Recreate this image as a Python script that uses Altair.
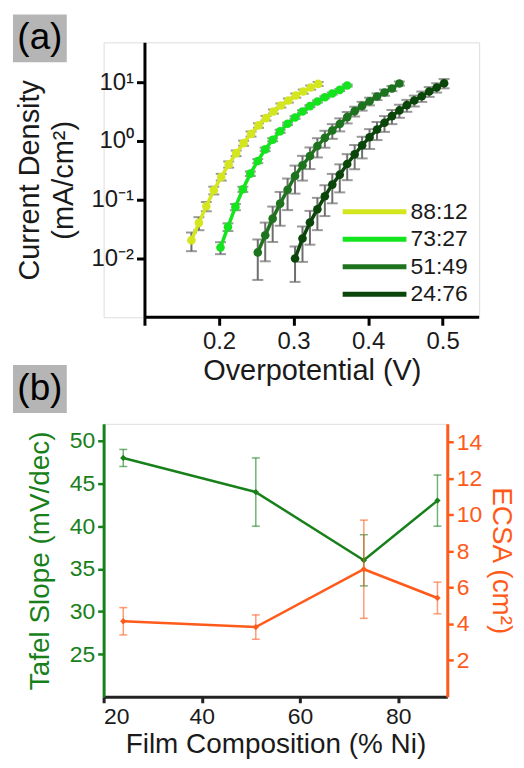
import altair as alt
import pandas as pd

FONT = "Liberation Sans"

# ---------------- panel (a) data ----------------
series_names = ["88:12", "73:27", "51:49", "24:76"]
series_colors = ["#d4e61e", "#14e41e", "#1e741e", "#0a460a"]

v_8812 = [0.163, 0.173, 0.183, 0.193, 0.203, 0.213, 0.223, 0.233, 0.243, 0.253,
          0.263, 0.273, 0.283, 0.293, 0.303, 0.313, 0.323, 0.333]
j_8812 = [0.0205, 0.0404, 0.0776, 0.145, 0.244, 0.40, 0.62, 0.92, 1.32, 1.84,
          2.45, 3.18, 4.02, 4.89, 5.94, 6.95, 8.13, 9.35]
r_8812 = [0.35, 0.25, 0.18, 0.15, 0.13, 0.12, 0.11, 0.10, 0.10, 0.09,
          0.09, 0.08, 0.08, 0.08, 0.08, 0.08, 0.08, 0.08]

v_7327 = [0.202, 0.212, 0.222, 0.232, 0.242, 0.252, 0.262, 0.272, 0.282, 0.292,
          0.302, 0.312, 0.322, 0.332, 0.342, 0.352, 0.362, 0.372]
j_7327 = [0.0154, 0.0345, 0.0755, 0.151, 0.278, 0.456, 0.72, 1.05, 1.46, 1.96,
          2.51, 3.18, 3.92, 4.70, 5.56, 6.42, 7.40, 8.78]
r_7327 = [0.23, 0.15, 0.12, 0.10, 0.09, 0.08, 0.07, 0.06, 0.06, 0.05,
          0.05, 0.05, 0.04, 0.04, 0.04, 0.04, 0.04, 0.04]

v_5149 = [0.252, 0.262, 0.272, 0.282, 0.292, 0.302, 0.312, 0.322, 0.332, 0.342,
          0.352, 0.362, 0.372, 0.382, 0.392, 0.402, 0.412, 0.422, 0.432, 0.442]
j_5149 = [0.0127, 0.0249, 0.0478, 0.0859, 0.148, 0.254, 0.385, 0.554, 0.819, 1.13,
          1.51, 1.94, 2.55, 3.22, 3.96, 4.75, 5.71, 6.68, 7.82, 9.5]
r_5149 = [0.66, 0.64, 0.60, 0.58, 0.55, 0.50, 0.45, 0.40, 0.36, 0.32,
          0.28, 0.25, 0.22, 0.19, 0.17, 0.15, 0.13, 0.12, 0.10, 0.08]

v_2476 = [0.302, 0.312, 0.322, 0.332, 0.342, 0.352, 0.362, 0.372, 0.382, 0.392,
          0.402, 0.412, 0.422, 0.432, 0.442, 0.452, 0.462, 0.472, 0.482, 0.492, 0.502]
j_2476 = [0.0100, 0.0219, 0.0409, 0.069, 0.1146, 0.181, 0.267, 0.406, 0.592, 0.842,
          1.16, 1.57, 2.04, 2.65, 3.31, 4.07, 4.89, 5.78, 6.95, 8.13, 9.6]
r_2476 = [0.60, 0.60, 0.58, 0.56, 0.54, 0.52, 0.50, 0.47, 0.44, 0.40,
          0.37, 0.34, 0.30, 0.27, 0.25, 0.23, 0.21, 0.20, 0.19, 0.18, 0.18]

# ---------------- panel (b) data ----------------
composition = [24, 51, 73, 88]
tafel = [48, 44, 36, 43]
tafel_err = [1, 4, 3, 3]
ecsa = [4.15, 3.83, 7.01, 5.43]
ecsa_err = [0.75, 0.67, 2.7, 0.87]

GREEN = "#17801a"
ORANGE = "#ff5a1a"
TXT = "#1a1a1a"

rows = []
for name, vs, js, rs in [("88:12", v_8812, j_8812, r_8812), ("73:27", v_7327, j_7327, r_7327),
                         ("51:49", v_5149, j_5149, r_5149), ("24:76", v_2476, j_2476, r_2476)]:
    for v, j, r in zip(vs, js, rs):
        rows.append({"series": name, "V": v, "J": j, "lo": j * (1 - r), "hi": j * (1 + r)})
df_a = pd.DataFrame(rows)
legend_df = pd.DataFrame({"series": series_names})
label_df = pd.DataFrame({"t": ["x"]})

# ---------------- panel (a) ----------------
# plot area starts at the same x as panel (b); the y axis is pushed inward by AXIS_SHIFT px
AXIS_SHIFT = 41
WA, HA = 377, 276
XMIN_A, XMAX_A = 0.0452, 0.549
xs_a = alt.Scale(domain=[XMIN_A, XMAX_A], nice=False, zero=False)
ys_a = alt.Scale(type="log", domain=[0.001, 47.7], nice=False)

x_axis_a = alt.Axis(values=[0.1, 0.2, 0.3, 0.4, 0.5],
                    labelExpr="datum.value < 0.15 ? '' : format(datum.value, '.1f')",
                    title="Overpotential (V)", grid=False, domain=False,
                    tickWidth=3, tickColor="black", tickSize=8,
                    labelFont=FONT, labelFontSize=24, labelColor=TXT, labelPadding=4,
                    titleFont=FONT, titleFontSize=29, titleFontWeight="normal", titleColor=TXT,
                    titlePadding=3, titleX=(WA + AXIS_SHIFT) / 2)
y_axis_a = alt.Axis(values=[0.01, 0.1, 1, 10], offset=-AXIS_SHIFT,
                    labelExpr="datum.value > 5 ? '10\u00b9' : datum.value > 0.5 ? '10\u2070' : datum.value > 0.05 ? '10\u207b\u00b9' : '10\u207b\u00b2'",
                    title=["Current Density", "(mA/cm\u00b2)"], grid=False,
                    domainWidth=3, domainColor="black", tickWidth=3, tickColor="black", tickSize=8,
                    labelFont=FONT, labelFontSize=24, labelColor=TXT, labelPadding=3,
                    titleFont=FONT, titleFontSize=29, titleFontWeight="normal", titleColor=TXT,
                    titleLineHeight=34, titlePadding=13)

X_a = alt.X("V:Q", scale=xs_a, axis=x_axis_a)
base_a = alt.Chart(df_a)
color_scale = alt.Scale(domain=series_names, range=series_colors)

# x axis line (from the shifted y axis to the right end of the plot)
xline_a = alt.Chart(label_df).mark_rule(color="black", strokeWidth=3).encode(
    x=alt.value(AXIS_SHIFT), x2=alt.value(WA), y=alt.value(HA))

err_a = base_a.mark_rule(color="#6e6e6e", strokeWidth=2).encode(
    x=X_a, y=alt.Y("lo:Q", scale=ys_a, axis=y_axis_a), y2="hi:Q")
cap_lo = base_a.mark_tick(orient="horizontal", color="#6e6e6e", size=11, thickness=2).encode(
    x=X_a, y=alt.Y("lo:Q", scale=ys_a, axis=y_axis_a))
cap_hi = base_a.mark_tick(orient="horizontal", color="#6e6e6e", size=11, thickness=2).encode(
    x=X_a, y=alt.Y("hi:Q", scale=ys_a, axis=y_axis_a))
line_a = base_a.mark_line(strokeWidth=3.5).encode(
    x=X_a, y=alt.Y("J:Q", scale=ys_a, axis=y_axis_a),
    color=alt.Color("series:N", scale=color_scale, legend=None))
pts_a = base_a.mark_circle(size=75, opacity=1).encode(
    x=X_a, y=alt.Y("J:Q", scale=ys_a, axis=y_axis_a),
    color=alt.Color("series:N", scale=color_scale, legend=None))

data_a = alt.layer(err_a, cap_lo, cap_hi, line_a, pts_a)

# legend drawn as its own layer (independent y)
leg_y = alt.Y("series:N", scale=alt.Scale(type="point", domain=series_names, range=[170, 253], padding=0),
              axis=None)
leg_line = alt.Chart(legend_df).mark_rule(strokeWidth=5).encode(
    x=alt.value(240), x2=alt.value(304), y=leg_y,
    color=alt.Color("series:N", scale=color_scale, legend=None))
leg_text = alt.Chart(legend_df).mark_text(font=FONT, fontSize=23, color=TXT, align="left",
                                          baseline="middle").encode(
    x=alt.value(308), y=leg_y, text="series:N")
legend_a = alt.layer(leg_line, leg_text)

box_a = alt.Chart(label_df).mark_rect(color="#b5b5b5").encode(
    x=alt.value(-91), x2=alt.value(-37), y=alt.value(-28), y2=alt.value(20))
txt_a = alt.Chart(label_df).mark_text(text="(a)", font=FONT, fontSize=37, color="black",
                                      baseline="alphabetic", align="center").encode(
    x=alt.value(-64), y=alt.value(7))

panel_a = alt.layer(box_a, txt_a, xline_a, data_a, legend_a).resolve_scale(y="independent").properties(
    width=WA, height=HA)

# ---------------- panel (b) ----------------
WB, HB = 345, 274
df_b = pd.DataFrame({"comp": composition, "tafel": tafel,
                     "t_lo": [t - e for t, e in zip(tafel, tafel_err)],
                     "t_hi": [t + e for t, e in zip(tafel, tafel_err)],
                     "ecsa": ecsa,
                     "e_lo": [t - e for t, e in zip(ecsa, ecsa_err)],
                     "e_hi": [t + e for t, e in zip(ecsa, ecsa_err)]})
xs_b = alt.Scale(domain=[20, 90], nice=False, zero=False)
x_axis_b = alt.Axis(values=[20, 40, 60, 80], title="Film Composition (% Ni)", grid=False,
                    domainWidth=3, domainColor="#222222", tickWidth=3, tickColor="#222222", tickSize=6,
                    labelFont=FONT, labelFontSize=23, labelColor=TXT, labelPadding=3,
                    titleFont=FONT, titleFontSize=28, titleFontWeight="normal", titleColor=TXT,
                    titlePadding=2)
ys_l = alt.Scale(domain=[20, 52], nice=False, zero=False)
ys_r = alt.Scale(domain=[0, 15], nice=False, zero=False)
y_axis_l = alt.Axis(values=[25, 30, 35, 40, 45, 50], title="Tafel Slope (mV/dec)", grid=False,
                    domainWidth=3, domainColor=GREEN, tickWidth=2.5, tickColor=GREEN, tickSize=6,
                    labelFont=FONT, labelFontSize=23, labelColor=GREEN, labelPadding=3,
                    titleFont=FONT, titleFontSize=28, titleFontWeight="normal", titleColor=GREEN,
                    titlePadding=15)
y_axis_r = alt.Axis(orient="right", values=[2, 4, 6, 8, 10, 12, 14], title="ECSA (cm\u00b2)", grid=False,
                    domainWidth=3, domainColor=ORANGE, tickWidth=2.5, tickColor=ORANGE, tickSize=6,
                    labelFont=FONT, labelFontSize=23, labelColor=ORANGE, labelPadding=3,
                    titleFont=FONT, titleFontSize=28, titleFontWeight="normal", titleColor=ORANGE,
                    titlePadding=5)

X_b = alt.X("comp:Q", scale=xs_b, axis=x_axis_b)
base_b = alt.Chart(df_b)

t_err = base_b.mark_rule(color=GREEN, strokeWidth=1.5, opacity=0.6).encode(
    x=X_b, y=alt.Y("t_lo:Q", scale=ys_l, axis=y_axis_l), y2="t_hi:Q")
t_clo = base_b.mark_tick(orient="horizontal", color=GREEN, size=8, thickness=1.5, opacity=0.6).encode(
    x=X_b, y=alt.Y("t_lo:Q", scale=ys_l, axis=y_axis_l))
t_chi = base_b.mark_tick(orient="horizontal", color=GREEN, size=8, thickness=1.5, opacity=0.6).encode(
    x=X_b, y=alt.Y("t_hi:Q", scale=ys_l, axis=y_axis_l))
t_line = base_b.mark_line(color=GREEN, strokeWidth=2.5).encode(
    x=X_b, y=alt.Y("tafel:Q", scale=ys_l, axis=y_axis_l))
t_pts = base_b.mark_point(shape="diamond", filled=True, size=40, color=GREEN, opacity=1).encode(
    x=X_b, y=alt.Y("tafel:Q", scale=ys_l, axis=y_axis_l))

box_b = alt.Chart(label_df).mark_rect(color="#b5b5b5").encode(
    x=alt.value(-91), x2=alt.value(-37), y=alt.value(-59), y2=alt.value(-11))
txt_b = alt.Chart(label_df).mark_text(text="(b)", font=FONT, fontSize=37, color="black",
                                      baseline="alphabetic", align="center").encode(
    x=alt.value(-64), y=alt.value(-24))

left_b = alt.layer(box_b, txt_b, t_err, t_clo, t_chi, t_line, t_pts)

e_err = base_b.mark_rule(color=ORANGE, strokeWidth=1.5, opacity=0.6).encode(
    x=X_b, y=alt.Y("e_lo:Q", scale=ys_r, axis=y_axis_r), y2="e_hi:Q")
e_clo = base_b.mark_tick(orient="horizontal", color=ORANGE, size=8, thickness=1.5, opacity=0.6).encode(
    x=X_b, y=alt.Y("e_lo:Q", scale=ys_r, axis=y_axis_r))
e_chi = base_b.mark_tick(orient="horizontal", color=ORANGE, size=8, thickness=1.5, opacity=0.6).encode(
    x=X_b, y=alt.Y("e_hi:Q", scale=ys_r, axis=y_axis_r))
e_line = base_b.mark_line(color=ORANGE, strokeWidth=2.5).encode(
    x=X_b, y=alt.Y("ecsa:Q", scale=ys_r, axis=y_axis_r))
e_pts = base_b.mark_point(shape="diamond", filled=True, size=40, color=ORANGE, opacity=1).encode(
    x=X_b, y=alt.Y("ecsa:Q", scale=ys_r, axis=y_axis_r))

right_b = alt.layer(e_err, e_clo, e_chi, e_line, e_pts)

panel_b = alt.layer(left_b, right_b).resolve_scale(y="independent").properties(width=WB, height=HB)

chart = alt.vconcat(panel_a, panel_b, spacing=-22).properties(
    padding={"left": 4, "top": 4, "right": 0, "bottom": 0}
).configure_view(stroke=None).configure(background="white")

chart.save("out.html", embed_options={"renderer": "svg", "actions": False})
